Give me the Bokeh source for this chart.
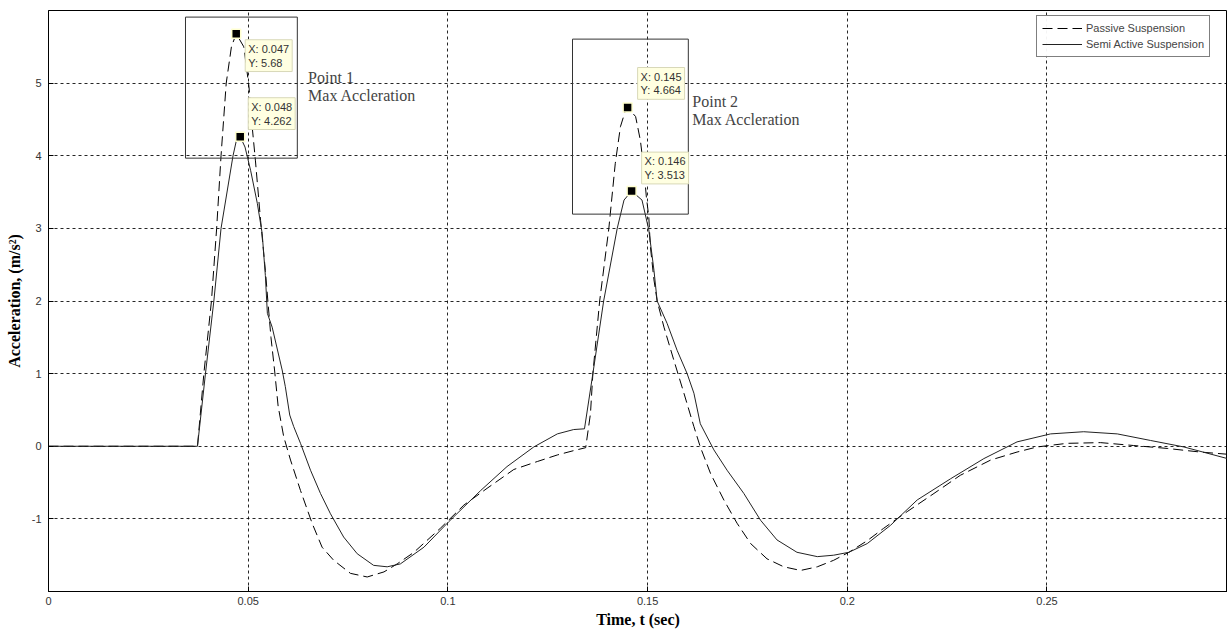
from bokeh.plotting import figure
from bokeh.models import Range1d, FixedTicker, Label, Legend, LegendItem, BoxAnnotation
from bokeh.embed import file_html
from bokeh.resources import INLINE

# ---------------- data ----------------
t_passive = [0.0, 0.0373, 0.0389, 0.0408, 0.0421, 0.0432, 0.0445, 0.0458, 0.047,
             0.0489, 0.0502, 0.0510, 0.0518, 0.0531, 0.0543, 0.0550, 0.0557, 0.0566,
             0.0575, 0.0589, 0.0606, 0.0631, 0.0660, 0.0685, 0.0714, 0.0756, 0.0798,
             0.0840, 0.0873, 0.0915, 0.0981, 0.1040, 0.1098, 0.1165, 0.1224, 0.1274,
             0.1315, 0.1345, 0.1357, 0.1363, 0.1380, 0.1403, 0.1419, 0.1432, 0.1445,
             0.145, 0.1470, 0.1482, 0.1491, 0.1497, 0.1503, 0.1507, 0.1516, 0.1524,
             0.1541, 0.1566, 0.1591, 0.1616, 0.1632, 0.1658, 0.1691, 0.1724, 0.1758,
             0.1799, 0.1841, 0.1883, 0.1925, 0.1966, 0.2004, 0.2050, 0.2091, 0.2150,
             0.2217, 0.2283, 0.2359, 0.2425, 0.2475, 0.2550, 0.2634, 0.2717, 0.2801,
             0.2884, 0.2952]
a_passive = [0.0, 0.0, 1.0, 2.0, 3.0, 4.0, 5.0, 5.5, 5.68,
             5.50, 4.95, 4.40, 3.94, 3.11, 2.42, 1.95, 1.50, 1.05,
             0.55, 0.13, -0.19, -0.61, -1.06, -1.39, -1.57, -1.75, -1.80,
             -1.73, -1.62, -1.46, -1.13, -0.81, -0.58, -0.32, -0.21, -0.12,
             -0.06, -0.02, 0.45, 1.0, 2.0, 3.0, 3.89, 4.40, 4.63,
             4.664, 4.54, 4.21, 3.80, 3.43, 3.16, 2.75, 2.29, 2.0,
             1.64, 1.18, 0.73, 0.27, -0.01, -0.38, -0.74, -1.06, -1.34,
             -1.55, -1.66, -1.71, -1.66, -1.57, -1.46, -1.30, -1.13, -0.90,
             -0.65, -0.40, -0.19, -0.08, -0.01, 0.04, 0.05, 0.01, -0.03,
             -0.08, -0.11]

t_semi = [0.0, 0.0373, 0.0393, 0.0414, 0.0432, 0.0462, 0.0470, 0.048, 0.0492,
          0.0506, 0.0523, 0.0535, 0.0543, 0.0548, 0.0560, 0.0585, 0.0593, 0.0604,
          0.0614, 0.0631, 0.0656, 0.0681, 0.0706, 0.0739, 0.0773, 0.0814, 0.0848,
          0.0881, 0.0940, 0.1002, 0.1082, 0.1148, 0.1215, 0.1274, 0.1315, 0.1342,
          0.1363, 0.1390, 0.1424, 0.1441, 0.146, 0.1486, 0.1503, 0.1516, 0.1524,
          0.1549, 0.1574, 0.1599, 0.1616, 0.1632, 0.1666, 0.1699, 0.1741, 0.1783,
          0.1824, 0.1874, 0.1925, 0.1966, 0.2004, 0.2050, 0.2108, 0.2175, 0.2258,
          0.2342, 0.2425, 0.2509, 0.2592, 0.2676, 0.2759, 0.2843, 0.2952]
a_semi = [0.0, 0.0, 1.0, 2.0, 3.0, 4.0, 4.2, 4.262, 4.12,
          3.80, 3.34, 2.93, 2.35, 1.83, 1.64, 1.05, 0.82, 0.43,
          0.27, 0.04, -0.33, -0.65, -0.93, -1.25, -1.48, -1.64, -1.66,
          -1.62, -1.39, -1.04, -0.61, -0.28, -0.01, 0.17, 0.23, 0.24,
          1.0, 2.0, 3.0, 3.39, 3.513, 3.39, 2.98, 2.42, 2.0,
          1.69, 1.32, 1.0, 0.73, 0.31, -0.05, -0.33, -0.65, -1.02,
          -1.29, -1.46, -1.52, -1.50, -1.46, -1.34, -1.09, -0.74, -0.45,
          -0.17, 0.06, 0.17, 0.20, 0.17, 0.08, -0.01, -0.17]

tip_x = [0.047, 0.048, 0.145, 0.146]
tip_y = [5.68, 4.262, 4.664, 3.513]

x_ticks = [0, 0.05, 0.1, 0.15, 0.2, 0.25]
x_tick_labels = ["0", "0.05", "0.1", "0.15", "0.2", "0.25"]
y_ticks = [-1, 0, 1, 2, 3, 4, 5]
y_tick_labels = ["-1", "0", "1", "2", "3", "4", "5"]

series_names = ["Passive Suspension", "Semi Active Suspension"]
point_texts = ["Point 1\nMax Accleration", "Point 2\nMax Accleration"]

# ---------------- figure ----------------
p = figure(width=1227, height=630, x_range=Range1d(0, 0.2952), y_range=Range1d(-2, 6),
           output_backend="svg", toolbar_location=None,
           min_border_left=48, min_border_right=0, min_border_top=10, min_border_bottom=38)
p.outline_line_color = "black"
p.outline_line_width = 1

p.xaxis.ticker = FixedTicker(ticks=x_ticks)
p.xaxis.major_label_overrides = dict(zip(x_ticks, x_tick_labels))
p.yaxis.ticker = FixedTicker(ticks=y_ticks)
p.yaxis.major_label_overrides = dict(zip(y_ticks, y_tick_labels))
for ax in (p.xaxis, p.yaxis):
    ax.major_tick_in = 5
    ax.major_tick_out = 0
    ax.minor_tick_line_color = None
    ax.axis_line_color = "black"
    ax.major_tick_line_color = "black"
    ax.major_label_text_font = "Liberation Sans"
    ax.major_label_text_font_size = "11px"
    ax.major_label_text_color = "#333333"
    ax.axis_label_text_font = "Liberation Serif"
    ax.axis_label_text_font_style = "bold"
    ax.axis_label_text_font_size = "16px"
    ax.axis_label_text_color = "black"
p.xaxis.axis_label = "Time, t (sec)"
p.yaxis.axis_label = "Acceleration, (m/s²)"
p.xaxis.major_label_standoff = 5
p.xaxis.axis_label_standoff = 3
p.yaxis.major_label_standoff = 7
p.yaxis.axis_label_standoff = 6

p.grid.grid_line_color = "black"
p.grid.grid_line_dash = "3 3"
p.grid.grid_line_alpha = 0.85

# annotation boxes around the peaks
p.add_layout(BoxAnnotation(left=0.0343, right=0.0623, bottom=3.967, top=5.909,
                           fill_color=None, line_color="#333333", line_alpha=1.0, line_width=1))
p.add_layout(BoxAnnotation(left=0.1312, right=0.1602, bottom=3.196, top=5.606,
                           fill_color=None, line_color="#333333", line_alpha=1.0, line_width=1))

r_passive = p.line(t_passive, a_passive, line_color="black", line_width=1, line_dash="10 5")
r_semi = p.line(t_semi, a_semi, line_color="#222222", line_width=1)

p.scatter(tip_x, tip_y, marker="square", size=9, fill_color="black",
          line_color="#FFFFD0", line_width=1.5)

tip_dx = [9, 8, 10, 10]
tip_dy = [-6, 39, 40, 39]
for tx, ty, dx, dy in zip(tip_x, tip_y, tip_dx, tip_dy):
    p.add_layout(Label(x=tx, y=ty, x_offset=dx, y_offset=dy, text=f"X: {tx}\nY: {ty}",
                       text_font="Liberation Sans", text_font_size="11px", text_color="#333333",
                       text_align="left", text_baseline="top", text_line_height=1.15,
                       background_fill_color="#FFFFE1", border_line_color="#D8D8B8",
                       padding=3))

p.add_layout(Label(x=0.0650, y=5.20, text=point_texts[0], text_font="Liberation Serif",
                   text_font_size="16px", text_baseline="top", text_line_height=1.1))
p.add_layout(Label(x=0.1612, y=4.87, text=point_texts[1], text_font="Liberation Serif",
                   text_font_size="16px", text_baseline="top", text_line_height=1.1))

legend = Legend(items=[LegendItem(label=series_names[0], renderers=[r_passive]),
                       LegendItem(label=series_names[1], renderers=[r_semi])],
                location=(988, 534))
legend.label_text_font = "Liberation Sans"
legend.label_text_font_size = "11px"
legend.label_height = 14
legend.glyph_height = 14
legend.glyph_width = 40
legend.spacing = 2
legend.padding = 5
legend.margin = 0
legend.label_standoff = 4
legend.border_line_color = "black"
legend.border_line_width = 1
p.add_layout(legend)

open("out.html", "w").write(file_html(p, INLINE))
